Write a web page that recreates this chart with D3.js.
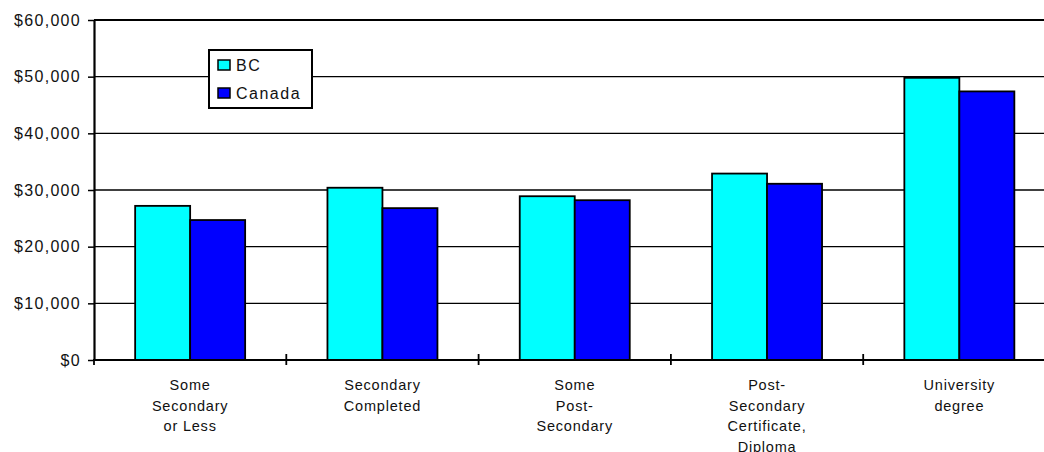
<!DOCTYPE html>
<html>
<head>
<meta charset="utf-8">
<script src="https://cdn.jsdelivr.net/npm/d3@7"></script>
<style>
  body { margin: 0; background: #fff; }
  text { font-family: "Liberation Sans", Arial, sans-serif; fill: #111; }
</style>
</head>
<body>
<div id="chart"></div>
<script>
// data
const categories = ["Some Secondary or Less", "Secondary Completed", "Some Post-Secondary",
                    "Post-Secondary Certificate, Diploma", "University degree"];
const tickLabels = [["Some", "Secondary", "or Less"], ["Secondary", "Completed"],
                    ["Some", "Post-", "Secondary"], ["Post-", "Secondary", "Certificate,", "Diploma"],
                    ["University", "degree"]];
const series = ["BC", "Canada"];
const bcValues = [27200, 30400, 28900, 32900, 49800];
const canadaValues = [24700, 26800, 28200, 31100, 47400];
const yTicks = [0, 10000, 20000, 30000, 40000, 50000, 60000];
const colors = ["#00ffff", "#0000ff"];

const WIDTH = 1044, HEIGHT = 452;
const PLOT = {left: 94, top: 20, bottom: 360, right: 1055.5};

const svg = d3.select("#chart").append("svg")
    .attr("width", WIDTH)
    .attr("height", HEIGHT);

const y = d3.scaleLinear().domain([0, 60000]).range([PLOT.bottom, PLOT.top]);
const x0 = d3.scaleBand().domain(categories).range([PLOT.left, PLOT.right]).padding(0);
const groupW = 110;
const x1 = d3.scaleBand().domain(series)
    .range([(x0.bandwidth() - groupW) / 2, (x0.bandwidth() + groupW) / 2]);

// gridlines
svg.append("g").selectAll("line")
    .data(yTicks.filter(d => d > 0 && d < 60000))
    .enter().append("line")
    .attr("x1", PLOT.left).attr("x2", PLOT.right)
    .attr("y1", d => y(d)).attr("y2", d => y(d))
    .attr("stroke", "#000").attr("stroke-width", 1.3);

// top border
svg.append("line")
    .attr("x1", PLOT.left).attr("x2", PLOT.right)
    .attr("y1", y(60000)).attr("y2", y(60000))
    .attr("stroke", "#000").attr("stroke-width", 2);

// bars
const rows = categories.map((c, i) => ({cat: c, vals: [bcValues[i], canadaValues[i]]}));
svg.append("g").selectAll("g")
    .data(rows)
    .enter().append("g")
    .attr("transform", d => `translate(${x0(d.cat)},0)`)
    .selectAll("rect")
    .data(d => d.vals.map((v, j) => ({s: series[j], v: v, c: colors[j]})))
    .enter().append("rect")
    .attr("x", d => x1(d.s))
    .attr("width", x1.bandwidth())
    .attr("y", d => y(d.v))
    .attr("height", d => y(0) - y(d.v))
    .attr("fill", d => d.c)
    .attr("stroke", "#000")
    .attr("stroke-width", 1.8);

// y axis
const yAxis = svg.append("g")
    .attr("transform", `translate(${PLOT.left},0)`)
    .call(d3.axisLeft(y).tickValues(yTicks).tickFormat(d3.format("$,")).tickSize(6).tickSizeOuter(0));
yAxis.select(".domain").attr("stroke", "#000").attr("stroke-width", 2.2);
yAxis.selectAll(".tick line").attr("stroke", "#000").attr("stroke-width", 1.5);
yAxis.selectAll(".tick text")
    .attr("x", -13)
    .style("font-size", "16px")
    .style("letter-spacing", "1.3px")
    .attr("fill", "#111");

// x axis line
svg.append("line")
    .attr("x1", PLOT.left - 1).attr("x2", PLOT.right)
    .attr("y1", PLOT.bottom).attr("y2", PLOT.bottom)
    .attr("stroke", "#000").attr("stroke-width", 2.2);

// category boundary ticks
svg.append("g").selectAll("line")
    .data(categories)
    .enter().append("line")
    .attr("x1", d => x0(d)).attr("x2", d => x0(d))
    .attr("y1", (d, i) => i === 0 ? PLOT.bottom : PLOT.bottom - 6)
    .attr("y2", PLOT.bottom + 5)
    .attr("stroke", "#000").attr("stroke-width", 1.8);

// category labels
const lab = svg.append("g").selectAll("text")
    .data(categories)
    .enter().append("text")
    .attr("text-anchor", "middle")
    .attr("transform", d => `translate(${x0(d) + x0.bandwidth() / 2},390)`)
    .style("font-size", "14.5px")
    .style("letter-spacing", "0.8px");
lab.selectAll("tspan")
    .data((d, i) => tickLabels[i])
    .enter().append("tspan")
    .attr("x", 0)
    .attr("dy", (d, i) => i === 0 ? 0 : 20.5)
    .text(d => d);

// legend
const legend = svg.append("g").attr("transform", "translate(209,50)");
legend.append("rect")
    .attr("width", 103).attr("height", 58)
    .attr("fill", "#fff").attr("stroke", "#000").attr("stroke-width", 2);
const item = legend.selectAll(".item")
    .data(series)
    .enter().append("g")
    .attr("class", "item")
    .attr("transform", (d, i) => `translate(9,${10 + i * 28})`);
item.append("rect")
    .attr("width", 12).attr("height", 10)
    .attr("fill", (d, i) => colors[i])
    .attr("stroke", "#000").attr("stroke-width", 1.5);
item.append("text")
    .attr("x", 18).attr("y", 11)
    .style("font-size", "16px")
    .style("letter-spacing", "1.5px")
    .text(d => d);
</script>
</body>
</html>
